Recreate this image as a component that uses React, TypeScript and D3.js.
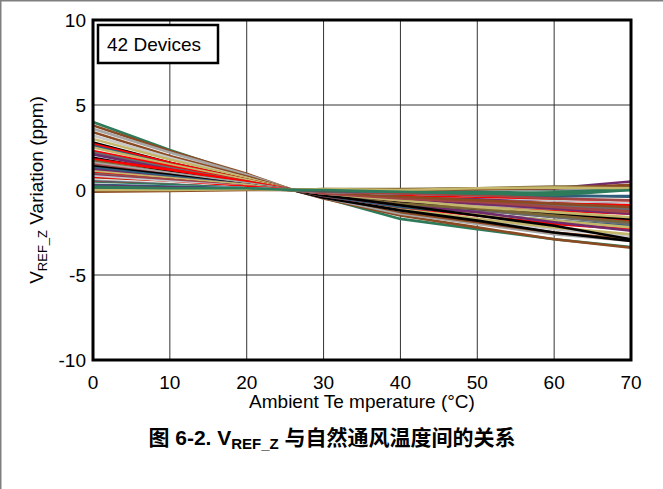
import React from "react";
import * as d3 from "d3";

const temps = [0, 10, 20, 26, 30, 40, 50, 60, 70];
const xTicks = [0, 10, 20, 30, 40, 50, 60, 70];
const yTicks = [10, 5, 0, -5, -10];

const dev01 = [4.0, 2.35, 0.85, 0, -0.45, -1.7, -2.3, -2.9, -3.35];
const dev02 = [3.8, 2.3, 0.95, 0, -0.5, -1.5, -2.2, -2.9, -3.4];
const dev03 = [3.6, 2.2, 0.9, 0, -0.45, -1.4, -2.0, -2.6, -3.0];
const dev04 = [3.4, 2.0, 0.8, 0, -0.35, -1.3, -1.9, -2.5, -2.9];
const dev05 = [3.2, 1.9, 0.7, 0, -0.35, -1.2, -1.7, -2.3, -2.7];
const dev06 = [3.0, 1.8, 0.7, 0, -0.35, -1.1, -1.7, -2.2, -2.6];
const dev07 = [2.8, 1.6, 0.6, 0, -0.45, -1.2, -1.8, -2.5, -3.0];
const dev08 = [2.7, 1.6, 0.6, 0, -0.35, -1.0, -1.5, -2.0, -2.3];
const dev09 = [2.6, 1.5, 0.5, 0, -0.35, -1.0, -1.4, -1.8, -2.1];
const dev10 = [2.5, 1.5, 0.6, 0, -0.3, -0.9, -1.4, -1.8, -2.2];
const dev11 = [2.3, 1.4, 0.5, 0, -0.3, -0.8, -1.2, -1.5, -1.8];
const dev12 = [2.2, 1.3, 0.5, 0, -0.3, -0.8, -1.2, -1.6, -2.0];
const dev13 = [2.1, 1.2, 0.4, 0, -0.3, -0.9, -1.3, -1.9, -2.4];
const dev14 = [1.9, 1.1, 0.4, 0, -0.3, -0.7, -1.1, -1.4, -1.7];
const dev15 = [1.8, 1.2, 0.5, 0, -0.2, -0.6, -0.9, -1.2, -1.4];
const dev16 = [1.7, 1.0, 0.4, 0, -0.3, -0.8, -1.1, -1.5, -1.9];
const dev17 = [1.6, 1.0, 0.4, 0, -0.2, -0.6, -0.9, -1.1, -1.3];
const dev18 = [1.5, 0.9, 0.3, 0, -0.2, -0.5, -0.8, -1.0, -1.2];
const dev19 = [1.4, 0.9, 0.3, 0, -0.3, -0.9, -1.5, -2.1, -2.9];
const dev20 = [1.3, 0.8, 0.3, 0, -0.2, -0.5, -0.7, -0.8, -0.9];
const dev21 = [1.2, 0.7, 0.3, 0, -0.2, -0.5, -0.8, -1.1, -1.4];
const dev22 = [1.1, 0.7, 0.3, 0, -0.2, -0.6, -1.0, -1.3, -1.6];
const dev23 = [1.0, 0.6, 0.2, 0, -0.1, -0.4, -0.6, -0.8, -0.9];
const dev24 = [0.95, 0.6, 0.2, 0, -0.2, -0.4, -0.6, -0.9, -1.1];
const dev25 = [0.9, 0.6, 0.2, 0, -0.2, -0.5, -0.7, -1.0, -1.3];
const dev26 = [0.85, 0.5, 0.2, 0, -0.1, -0.3, -0.5, -0.6, -0.7];
const dev27 = [0.8, 0.5, 0.2, 0, -0.1, -0.3, -0.4, -0.6, -0.7];
const dev28 = [0.7, 0.4, 0.2, 0, -0.1, -0.3, -0.4, -0.5, -0.6];
const dev29 = [0.65, 0.4, 0.1, 0, -0.1, -0.4, -0.6, -0.8, -1.0];
const dev30 = [0.6, 0.4, 0.1, 0, -0.1, -0.2, -0.3, -0.4, -0.5];
const dev31 = [0.55, 0.35, 0.1, 0, -0.1, -0.2, -0.3, -0.3, -0.4];
const dev32 = [0.5, 0.3, 0.1, 0, -0.1, -0.2, -0.3, -0.4, -0.3];
const dev33 = [0.45, 0.3, 0.1, 0, -0.1, -0.2, -0.3, -0.5, -0.6];
const dev34 = [0.4, 0.3, 0.1, 0, -0.05, -0.1, -0.2, -0.1, 0.0];
const dev35 = [0.35, 0.2, 0.1, 0, 0.0, -0.1, -0.1, -0.2, -0.2];
const dev36 = [0.3, 0.2, 0.1, 0, -0.05, -0.1, -0.1, -0.3, -0.4];
const dev37 = [0.25, 0.15, 0.05, 0, 0.0, 0.0, 0.1, 0.1, 0.5];
const dev38 = [0.2, 0.1, 0.05, 0, 0.0, -0.1, -0.1, -0.2, 0.1];
const dev39 = [0.05, 0.0, 0.05, 0, 0.05, 0.05, 0.1, 0.2, 0.2];
const dev40 = [-0.1, -0.05, 0.0, 0, 0.0, 0.0, 0.05, 0.1, 0.3];
const dev41 = [0.0, 0.0, 0.05, 0, 0.05, 0.0, 0.1, 0.15, 0.1];
const dev42 = [0.15, 0.1, 0.1, 0, 0.0, -0.1, -0.2, -0.3, 0.0];

const GREEN = "#2e7b5b";
const BROWN = "#8b4a22";
const GRAY = "#a6a6a6";
const BLACK = "#000000";
const RED = "#ff0000";
const KHAKI = "#c4b66a";
const BLUE = "#2f5d7c";
const PURPLE = "#6f2b6b";
const BRICK = "#a34545";
const OLIVE = "#7a6535";
const DGRAY = "#6b6b6b";
const WHITE = "#ffffff";
const LGRAY = "#c8c8c8";

const devices = [dev01, dev02, dev03, dev04, dev05, dev06, dev07, dev08, dev09, dev10, dev11, dev12, dev13, dev14,
  dev15, dev16, dev17, dev18, dev19, dev20, dev21, dev22, dev23, dev24, dev25, dev26, dev27, dev28,
  dev29, dev30, dev31, dev32, dev33, dev34, dev35, dev36, dev37, dev38, dev39, dev40, dev41, dev42];
const deviceColors = [GREEN, BROWN, GRAY, BROWN, LGRAY, KHAKI, BLACK, RED, BLUE, KHAKI, RED, DGRAY, PURPLE, BLACK,
  RED, OLIVE, GRAY, BRICK, BLACK, BLUE, PURPLE, KHAKI, RED, DGRAY, BRICK, PURPLE, LGRAY, RED,
  BROWN, WHITE, GRAY, BLUE, BRICK, GREEN, WHITE, BLUE, PURPLE, GREEN, OLIVE, BROWN, KHAKI, GREEN];

const W = 663;
const H = 489;
const L = 93, R = 631, T = 20, B = 360;
const FONT = "'Liberation Sans', Arial, 'Noto Sans CJK SC', sans-serif";

export default function App() {
  const x = d3.scaleLinear().domain([0, 70]).range([L, R]);
  const y = d3.scaleLinear().domain([-10, 10]).range([B, T]);
  const line = d3.line<number>().x((_, i) => x(temps[i])).y((d) => y(d));
  const order = d3.range(devices.length);
  return (
    <svg width={W} height={H} style={{ position: "fixed", left: 0, top: 0, background: "#fff" }} fontFamily={FONT}>
      <rect x={0} y={0} width={W} height={H} fill="#fff" />
      <line x1={0} y1={0.75} x2={W} y2={0.75} stroke="#808080" strokeWidth={1.5} />
      <line x1={0.75} y1={0} x2={0.75} y2={H} stroke="#808080" strokeWidth={1.5} />
      <defs>
        <clipPath id="plot">
          <rect x={L} y={T} width={R - L} height={B - T} />
        </clipPath>
      </defs>
      {xTicks.slice(1, -1).map((t) => (
        <line key={"gx" + t} x1={x(t)} x2={x(t)} y1={T} y2={B} stroke="#333" strokeWidth={1} />
      ))}
      {yTicks.slice(1, -1).map((t) => (
        <line key={"gy" + t} x1={L} x2={R} y1={y(t)} y2={y(t)} stroke="#333" strokeWidth={1} />
      ))}
      <g clipPath="url(#plot)">
        {order.map((i) => (
          <path key={i} d={line(devices[i]) || ""} fill="none" stroke={deviceColors[i]} strokeWidth={2.6} strokeLinejoin="round" />
        ))}
      </g>
      <rect x={L} y={T} width={R - L} height={B - T} fill="none" stroke="#000" strokeWidth={3} />
      <rect x={98} y={25} width={120} height={38} fill="#fff" stroke="#000" strokeWidth={2.5} />
      <text x={107} y={51} fontSize={19} fill="#000">42 Devices</text>
      {yTicks.map((t) => (
        <text key={"yl" + t} x={86} y={y(t)} dy="0.35em" textAnchor="end" fontSize={19} fill="#000">{t}</text>
      ))}
      {xTicks.map((t) => (
        <text key={"xl" + t} x={x(t)} y={389} textAnchor="middle" fontSize={19} fill="#000">{t}</text>
      ))}
      <text x={(L + R) / 2} y={408} textAnchor="middle" fontSize={19} fill="#000">Ambient Te mperature (°C)</text>
      <text transform={`translate(43, ${(T + B) / 2}) rotate(-90)`} textAnchor="middle" fontSize={19} fill="#000">
        V<tspan fontSize={13} dy={4}>REF_Z</tspan><tspan dy={-4}> Variation (ppm)</tspan>
      </text>
      <text x={332} y={445} textAnchor="middle" fontSize={21} fontWeight="bold" fill="#000">
        图 6-2. V<tspan fontSize={15} dy={4}>REF_Z</tspan><tspan dy={-4}> 与自然通风温度间的关系</tspan>
      </text>
    </svg>
  );
}
